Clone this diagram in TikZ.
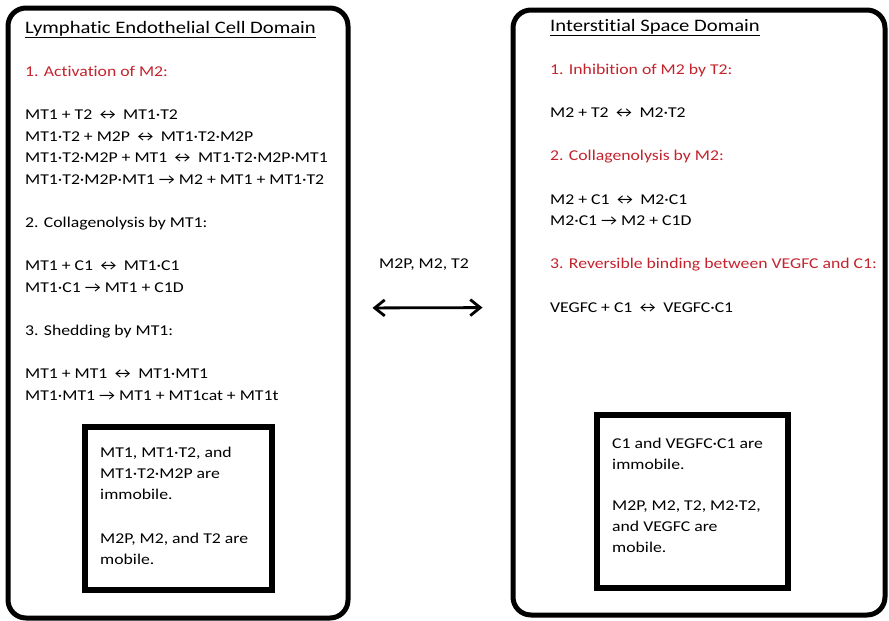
\documentclass[tikz,border=0pt]{standalone}
\usepackage{fontspec}
\setmainfont{Carlito}[FakeStretch=1.18, Ligatures=NoCommon]
\usetikzlibrary{arrows.meta,positioning}
\definecolor{headred}{RGB}{195,35,45}
\newcommand{\rxn}[1]{\textcolor{headred}{#1}}
\newcommand{\skipline}{\\[21.6pt]}
\newcommand{\domtitle}[1]{{\fontsize{17.5}{21.6}\selectfont\underline{#1}}}

\tikzset{
  domainbox/.style={draw, line width=5pt, rounded corners=18pt, inner sep=0pt},
  notebox/.style={draw, line width=6pt, inner sep=0pt},
  notetext/.style={anchor=north west, inner sep=0pt, align=left, font=\fontsize{15}{21}\selectfont},
  eqblock/.style={anchor=north west, inner sep=0pt, align=left, font=\fontsize{15}{21.6}\selectfont},
  biarrow/.style={{Straight Barb[length=10pt,width=16pt]}-{Straight Barb[length=10pt,width=16pt]}, line width=2.8pt}
}

\begin{document}
\begin{tikzpicture}[x=1pt,y=-1pt]
  \useasboundingbox (0,0) rectangle (889,621);

  % the two domains
  \node[domainbox, minimum width=340pt, minimum height=610pt] (lec) at (178,313) {};
  \node[domainbox, minimum width=372pt, minimum height=605pt] (isd) at (699,312.5) {};

  % lymphatic endothelial cell reactions
  \node[eqblock] (lectext) at (25,21) {\domtitle{Lymphatic Endothelial Cell Domain}\skipline
    \rxn{1. Activation of M2:}\skipline
    MT1 + T2 ↔ MT1·T2\\
    MT1·T2 + M2P ↔ MT1·T2·M2P\\
    MT1·T2·M2P + MT1 ↔ MT1·T2·M2P·MT1\\
    MT1·T2·M2P·MT1 → M2 + MT1 + MT1·T2\skipline
    2. Collagenolysis by MT1:\skipline
    MT1 + C1 ↔ MT1·C1\\
    MT1·C1 → MT1 + C1D\skipline
    3. Shedding by MT1:\skipline
    MT1 + MT1 ↔ MT1·MT1\\
    MT1·MT1 → MT1 + MT1cat + MT1t};

  % interstitial space reactions
  \node[eqblock] (isdtext) at (550,19) {\domtitle{Interstitial Space Domain}\skipline
    \rxn{1. Inhibition of M2 by T2:}\skipline
    M2 + T2 ↔ M2·T2\skipline
    \rxn{2. Collagenolysis by M2:}\skipline
    M2 + C1 ↔ M2·C1\\
    M2·C1 → M2 + C1D\skipline
    \rxn{3. Reversible binding between VEGFC and C1:}\skipline
    VEGFC + C1 ↔ VEGFC·C1};

  % mobility notes
  \node[notebox, minimum width=187pt, minimum height=163pt] (lecnote) at (178.5,508.5) {};
  \node[notetext] (lecnotetext) at ([xshift=18pt,yshift=-23pt]lecnote.north west) {MT1, MT1·T2, and\\ MT1·T2·M2P are\\ immobile.\\[23pt] M2P, M2, and T2 are\\ mobile.};
  \node[notebox, minimum width=191pt, minimum height=173pt] (isdnote) at (692.5,501.5) {};
  \node[notetext] (isdnotetext) at ([xshift=18pt,yshift=-26pt]isdnote.north west) {C1 and VEGFC·C1 are\\ immobile.\\[19.5pt] M2P, M2, T2, M2·T2,\\ and VEGFC are\\ mobile.};

  % exchange between domains
  \node[font=\fontsize{15}{18}\selectfont] (mobile) at (424,265) {M2P, M2, T2};
  \draw[biarrow, shorten <=22pt, shorten >=28pt] ([yshift=5pt]lec.east) -- ([yshift=5pt]isd.west);
\end{tikzpicture}
\end{document}
